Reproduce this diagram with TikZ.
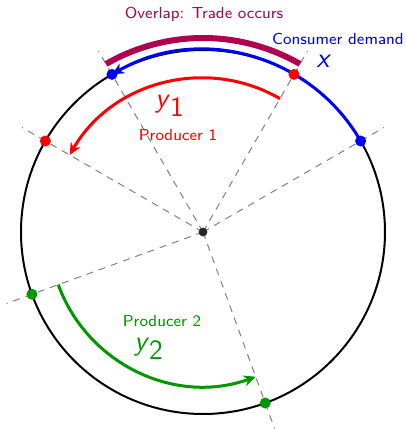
\documentclass[tikz,border=0pt]{standalone}
\usetikzlibrary{arrows.meta}
\definecolor{ovl}{RGB}{176,0,80}
\definecolor{pgreen}{RGB}{0,150,0}
\begin{document}
\begin{tikzpicture}[
  font=\sffamily\fontsize{8}{10}\selectfont,
  ray/.style={gray, line width=0.5pt, dash pattern=on 3.5pt off 3pt},
  dotmark/.style={circle, inner sep=0pt, minimum size=5.5pt},
  arcline/.style={line width=1.5pt},
  tipstyle/.style={-{Stealth[length=6pt,width=5.5pt]}},
  lbl/.style={inner sep=0.5pt},
  bigmath/.style={lbl, font=\sffamily\fontsize{14}{16}\selectfont}
]
\useasboundingbox (-101.5pt,-99pt) rectangle (101.5pt,116pt);
\def\R{91pt}
\def\Ri{77pt}
\def\Ro{97pt}
\def\Rr{104.5pt}
\coordinate (O) at (0,0);
% dashed rays
\foreach \a/\n in {30/r1,60/r2,120/r3,150/r4,200/r5,290/r6}{
  \coordinate (\n) at (\a:\Rr);
  \draw[ray] (O) -- (\n);
}
% circle
\draw[line width=1pt] (O) circle[radius=\R];
% center dot
\fill[black!85] (O) circle[radius=2.2pt];
% overlap arc
\coordinate (ovs) at (60:\Ro);
\draw[ovl, line width=3pt] (ovs) arc[start angle=60, end angle=120, radius=\Ro];
% consumer demand
\coordinate (cs) at (30:\R);
\draw[blue, arcline, tipstyle] (cs) arc[start angle=30, end angle=120, radius=\R];
% producer 1
\coordinate (ps1) at (60:\Ri);
\draw[red, arcline, tipstyle] (ps1) arc[start angle=60, end angle=150, radius=\Ri];
% producer 2
\coordinate (ps2) at (200:\Ri);
\draw[pgreen, arcline, tipstyle] (ps2) arc[start angle=200, end angle=290, radius=\Ri];
% dots
\node[dotmark, fill=blue] (d30) at (30:\R) {};
\node[dotmark, fill=blue] (d120) at (120:\R) {};
\node[dotmark, fill=red] (d60) at (60:\R) {};
\node[dotmark, fill=red] (d150) at (150:\R) {};
\node[dotmark, fill=pgreen] (d200) at (200:\R) {};
\node[dotmark, fill=pgreen] (d290) at (290:\R) {};
% labels
\node[lbl, text=ovl] (lovl) at (0.5pt,109pt) {Overlap: Trade occurs};
\node[lbl, text=blue] (lcons) at (67.5pt,96.5pt) {Consumer demand};
\node[bigmath, text=blue] (lx) at (60.5pt,85.5pt) {\textit{x}};
\node[bigmath, text=red] (ly1) at (-16.5pt,63pt) {\textit{y}$_{\textsf{1}}$};
\node[lbl, text=red] (lp1) at (-12.5pt,48.5pt) {Producer 1};
\node[lbl, text=pgreen] (lp2) at (-20.5pt,-44.5pt) {Producer 2};
\node[bigmath, text=pgreen] (ly2) at (-27pt,-58.5pt) {\textit{y}$_{\textsf{2}}$};
\end{tikzpicture}
\end{document}
